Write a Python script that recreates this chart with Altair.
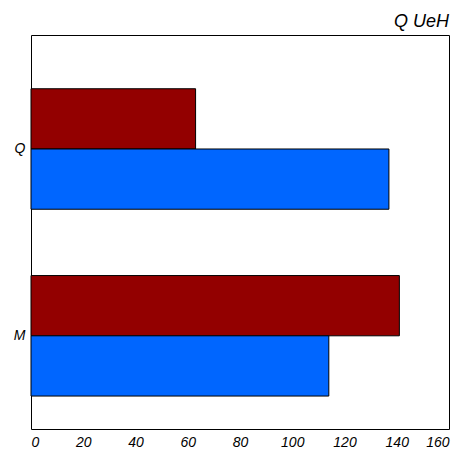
import altair as alt
import pandas as pd

categories = ["Q", "M"]
series = ["red", "blue"]
red_values = [63, 141]
blue_values = [137, 114]

rows = []
for c, r, b in zip(categories, red_values, blue_values):
    rows.append({"cat": c, "series": "red", "value": r})
    rows.append({"cat": c, "series": "blue", "value": b})
data = pd.DataFrame(rows)

chart = (
    alt.Chart(data)
    .mark_bar(stroke="black", strokeWidth=1)
    .encode(
        y=alt.Y(
            "cat:N",
            sort=categories,
            title=None,
            scale=alt.Scale(paddingInner=0.355, paddingOuter=0.232, align=0.62),
            axis=alt.Axis(labelFontStyle="italic", labelFontSize=14, labelAngle=0,
                          ticks=False, labelPadding=6, domain=False),
        ),
        yOffset=alt.YOffset("series:N", sort=series),
        x=alt.X(
            "value:Q",
            title=None,
            scale=alt.Scale(domain=[0, 160], nice=False),
            axis=alt.Axis(values=list(range(0, 161, 20)), labelFontStyle="italic",
                          labelFontSize=14, ticks=False, labelPadding=6, domain=False,
                          grid=False),
        ),
        color=alt.Color("series:N", sort=series,
                        scale=alt.Scale(domain=series, range=["#930000", "#0066ff"]),
                        legend=None),
    )
    .properties(
        width=462 - 16,
        height=462 - 16,
        autosize=alt.AutoSizeParams(type="fit", contains="padding"),
        title=alt.TitleParams("Q UeH", anchor="end", fontStyle="italic", fontSize=18,
                              fontWeight="normal", font="Liberation Sans"),
    )
    .configure_axis(grid=False, labelFont="Liberation Sans", labelColor="black")
    .configure_view(stroke="black", strokeWidth=1)
)

chart.save("out.html", embed_options={"renderer": "svg", "actions": False})
